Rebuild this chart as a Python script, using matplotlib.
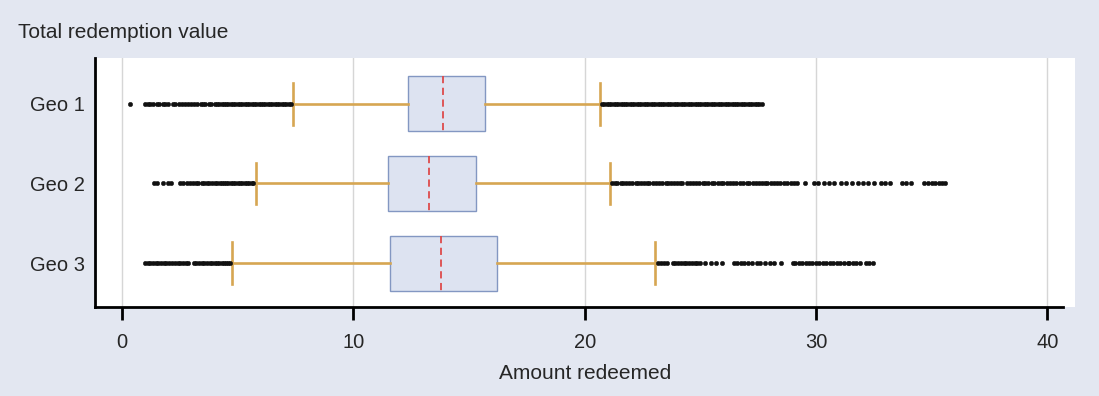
import matplotlib
matplotlib.use("Agg")
import matplotlib.pyplot as plt

# ---- data ----
labels = ["Geo 1", "Geo 2", "Geo 3"]
whislo = [7.38, 5.78, 4.74]
q1 = [12.35, 11.50, 11.57]
med = [13.87, 13.29, 13.80]
q3 = [15.68, 15.32, 16.19]
whishi = [20.66, 21.08, 23.04]

fliers_geo1 = [0.35, 1.0, 1.1, 1.2, 1.35, 1.5, 1.6, 1.75, 1.85, 2.0, 2.2, 2.3, 2.45,
               2.6, 2.7, 2.85, 3.0, 3.1, 3.25, 3.4, 3.5, 3.6, 3.75, 3.85, 4.0, 4.1,
               4.2, 4.3, 4.4, 4.5, 4.6, 4.7, 4.8, 4.9, 5.0, 5.1, 5.2, 5.3, 5.4, 5.5,
               5.6, 5.7, 5.8, 5.9, 6.0, 6.1, 6.2, 6.3, 6.4, 6.5, 6.6, 6.7, 6.8, 6.9,
               7.0, 7.1, 7.2, 7.3,
               20.75, 20.85, 20.95, 21.05, 21.15, 21.25, 21.35, 21.45, 21.55, 21.65,
               21.75, 21.85, 21.95, 22.05, 22.15, 22.25, 22.35, 22.45, 22.55, 22.65,
               22.75, 22.85, 22.95, 23.05, 23.15, 23.25, 23.35, 23.45, 23.55, 23.65,
               23.75, 23.85, 23.95, 24.05, 24.15, 24.25, 24.35, 24.45, 24.55, 24.65,
               24.75, 24.85, 24.95, 25.05, 25.15, 25.25, 25.35, 25.45, 25.55, 25.65,
               25.75, 25.85, 25.95, 26.05, 26.15, 26.25, 26.35, 26.45, 26.55, 26.65,
               26.75, 26.85, 26.95, 27.05, 27.15, 27.25, 27.35, 27.45, 27.55, 27.65]
fliers_geo2 = [1.36, 1.53, 1.79, 1.99, 2.1, 2.5, 2.62, 2.8, 2.92, 3.05, 3.2, 3.3,
               3.45, 3.55, 3.66, 3.78, 3.9, 4.0, 4.1, 4.24, 4.33, 4.42, 4.5, 4.6,
               4.7, 4.8, 4.9, 5.0, 5.1, 5.2, 5.3, 5.4, 5.5, 5.6, 5.67,
               21.2, 21.3, 21.42, 21.55, 21.65, 21.8, 21.92, 22.05, 22.2, 22.3,
               22.42, 22.55, 22.7, 22.8, 22.95, 23.1, 23.2, 23.35, 23.5, 23.6,
               23.75, 23.88, 24.0, 24.12, 24.23,
               24.44, 24.55, 24.7, 24.82, 24.95, 25.1, 25.22, 25.35, 25.5, 25.6,
               25.75, 25.9, 26.0, 26.15, 26.3, 26.42, 26.55, 26.7, 26.85, 27.0,
               27.12, 27.26,
               27.4, 27.52, 27.65, 27.78, 27.9, 28.05, 28.2, 28.32, 28.45, 28.6,
               28.75, 28.9, 29.05, 29.2,
               29.52, 29.9, 30.1, 30.35, 30.55, 30.78, 31.08, 31.3, 31.55, 31.8,
               32.05, 32.25, 32.5, 32.8, 33.0, 33.2, 33.7, 33.9, 34.1,
               34.68, 34.85, 35.0, 35.15, 35.3, 35.45, 35.6]
fliers_geo3 = [1.0, 1.1, 1.2, 1.32, 1.45, 1.55, 1.68, 1.8, 1.92, 2.05, 2.15, 2.28,
               2.4, 2.52, 2.62, 2.75, 2.87,
               3.09, 3.2, 3.32, 3.45, 3.55, 3.68, 3.8, 3.9, 4.0, 4.1, 4.2, 4.3,
               4.4, 4.5, 4.6, 4.67,
               23.15, 23.3, 23.45, 23.58, 23.8, 23.92, 24.05, 24.15, 24.28, 24.4,
               24.52, 24.65, 24.77, 24.87, 25.0, 25.2, 25.45, 25.67, 25.95,
               26.45, 26.6, 26.75, 26.9, 27.05, 27.25, 27.45, 27.6, 27.8, 28.0,
               28.2, 28.48,
               28.99, 29.1, 29.25, 29.4, 29.55, 29.7, 29.85, 30.0, 30.15, 30.3,
               30.45, 30.6, 30.75, 30.9, 31.05, 31.2, 31.37,
               31.43, 31.6, 31.75, 31.9, 32.15, 32.3, 32.45]
fliers = [fliers_geo1, fliers_geo2, fliers_geo3]

xticks = [0, 10, 20, 30, 40]
title = "Total redemption value"
xlabel = "Amount redeemed"

# ---- style ----
BG = "#e3e7f1"
BOX_FACE = "#dde3f1"
BOX_EDGE = "#8397c2"
WHISK = "#d6a652"
MEDIAN = "#de4b4b"
TXT = "#262626"
FONT = ["Liberation Sans", "DejaVu Sans"]

plt.rcParams["font.family"] = FONT

fig = plt.figure(figsize=(10.99, 3.96), dpi=100, facecolor=BG)
ax = fig.add_axes([95 / 1099, 1 - 307 / 396, (1075 - 95) / 1099, (307 - 58) / 396])
ax.set_facecolor("white")

stats = []
for i in range(len(labels)):
    stats.append(dict(label=labels[i], whislo=whislo[i], q1=q1[i], med=med[i],
                      q3=q3[i], whishi=whishi[i], fliers=fliers[i]))

positions = [1, 2, 3]
ax.bxp(stats, positions=positions, orientation="horizontal", widths=0.69,
       capwidths=0.52, patch_artist=True, showfliers=True,
       boxprops=dict(facecolor=BOX_FACE, edgecolor=BOX_EDGE, linewidth=1.0),
       whiskerprops=dict(color=WHISK, linewidth=1.9),
       capprops=dict(color=WHISK, linewidth=1.9),
       medianprops=dict(color=MEDIAN, linewidth=1.3, linestyle=(0, (4, 2.5))),
       flierprops=dict(marker="o", markersize=3.2, markerfacecolor="#111111",
                       markeredgecolor="#111111", markeredgewidth=0.3, linestyle="none"),
       zorder=3)

ax.set_xlim(-1.17, 41.2)
ax.set_ylim(3.55, 0.425)

ax.set_xticks(xticks)
ax.set_xticklabels([str(t) for t in xticks], fontsize=14.5)
ax.set_yticks(positions)
ax.set_yticklabels(labels, fontsize=14.5)
ax.tick_params(axis="y", length=0, pad=7, colors=TXT)
ax.tick_params(axis="x", length=9, width=2, direction="out", pad=10, colors=TXT)
ax.tick_params(axis="x", color="black")

ax.xaxis.grid(True, color="#d6d6d6", linewidth=1.0, zorder=0)
ax.set_axisbelow(True)

for s in ["top", "right"]:
    ax.spines[s].set_visible(False)
ax.spines["left"].set_linewidth(2)
ax.spines["bottom"].set_linewidth(2)
ax.spines["bottom"].set_bounds(-1.17, 40.7)

ax.set_xlabel(xlabel, fontsize=15, labelpad=8.5, color=TXT)
fig.text(18 / 1099, 1 - 33 / 396, title, fontsize=15, va="center", ha="left",
         color=TXT)

fig.savefig("out.png", dpi=100, facecolor=BG)
